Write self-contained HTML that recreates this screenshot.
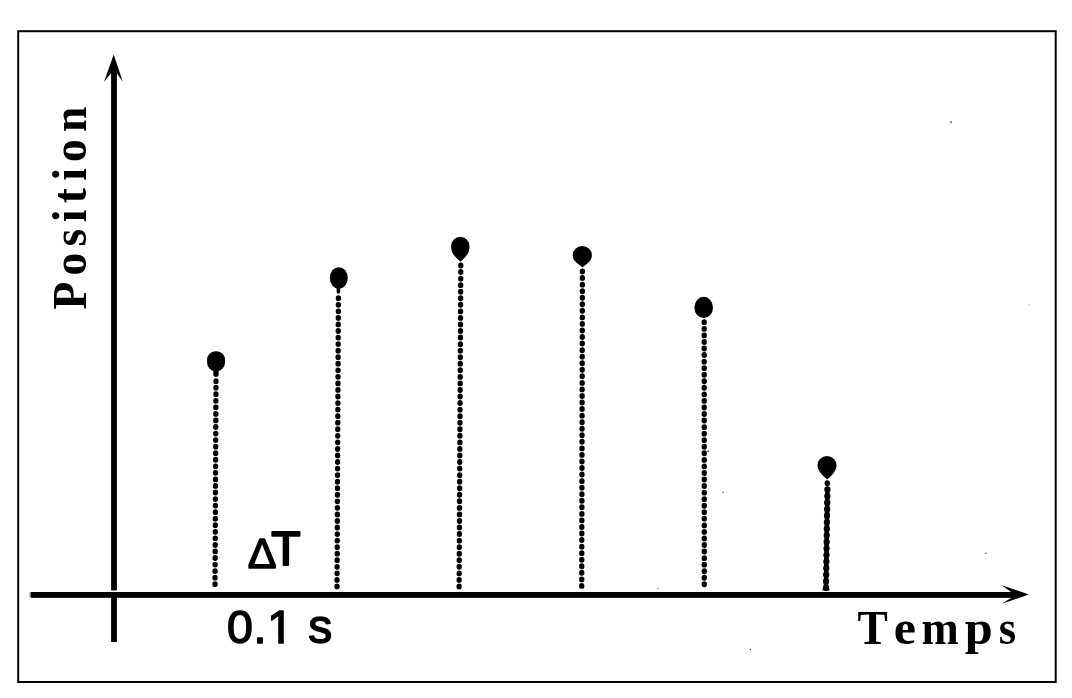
<!DOCTYPE html>
<html lang="fr">
<head>
<meta charset="utf-8">
<title>Position / Temps</title>
<style>
  html, body { margin: 0; padding: 0; background: #fff; }
  body { width: 1072px; height: 698px; overflow: hidden; }
  svg { display: block; }
  .serif { font-family: "Liberation Serif", "Times New Roman", serif; font-weight: bold; font-size: 48px; fill: #000; }
  .sans { font-family: "Liberation Sans", Arial, sans-serif; fill: #000; stroke: #000; stroke-width: 1.5px; stroke-linejoin: round; }
  .stem { stroke: #000; stroke-width: 5.3; stroke-linecap: round; stroke-dasharray: 0.6 5.95; fill: none; }
</style>
</head>
<body>
<svg width="1072" height="698" viewBox="0 0 1072 698">
  <rect x="0" y="0" width="1072" height="698" fill="#fff"/>
  <!-- frame -->
  <rect x="18.2" y="31.2" width="1037.5" height="650.8" fill="none" stroke="#000" stroke-width="2"/>

  <!-- axes -->
  <rect x="111.1" y="72" width="5.8" height="518.4" fill="#000"/>
  <rect x="111.1" y="592" width="5.8" height="50" fill="#000"/>
  <polygon points="113.7,54.5 122.8,81.8 117,73.6 110.9,73.2 104,82" fill="#000"/>
  <rect x="29.4" y="592.3" width="1.6" height="5.2" fill="#999"/>
  <rect x="30.8" y="592" width="981" height="5.85" fill="#000"/>
  <polygon points="1029,594.6 1001.8,585.2 1011,591.9 1011,598 1001.8,603.8" fill="#000"/>

  <!-- stems -->
  <line class="stem" x1="216" y1="380.9" x2="215" y2="589" style="stroke-dasharray:0.5 6.05"/>
  <line class="stem" x1="338.4" y1="298" x2="337" y2="588" style="stroke-dasharray:0.5 6.05"/>
  <line class="stem" x1="460.8" y1="265.2" x2="459.1" y2="588.6"/>
  <line class="stem" x1="582.4" y1="271.2" x2="581.7" y2="590.6"/>
  <line class="stem" x1="704.2" y1="322" x2="704.3" y2="589.5"/>
  <line class="stem" x1="827.3" y1="483" x2="827.3" y2="484"/>
  <line x1="827.4" y1="489" x2="826" y2="588" stroke="#000" stroke-width="4.6" stroke-linecap="round"/>
  <line x1="827.4" y1="489.5" x2="826" y2="588" stroke="#000" stroke-width="6.3" stroke-linecap="round" stroke-dasharray="0.01 6.55"/>
  <line x1="822.5" y1="589.6" x2="829.5" y2="589.6" stroke="#000" stroke-width="1.6"/>

  <!-- heads -->
  <g fill="#000" stroke="#000" stroke-linecap="round">
    <rect x="207.1" y="351.2" width="17.9" height="19.8" rx="8.2" ry="8.6" stroke="none"/>
    <line x1="216" y1="369" x2="216" y2="374.2" stroke-width="5.4"/>
    <ellipse cx="338.8" cy="278" rx="8.95" ry="10.8" stroke="none"/>
    <line x1="338.4" y1="288" x2="338.4" y2="292" stroke-width="3.6"/>
    <g stroke="none">
    <path d="M451.1,246.4 A9.2,9.6 0 0 1 469.5,246.4 C469.5,254.08 464.5,257.80 460.5,261.8 C456.5,257.80 451.1,254.08 451.1,246.4 Z"/>
    <path d="M572.7,255.0 A9.6,8.9 0 0 1 591.9,255.0 C591.9,261.68 587.0,263.10 582.5,267.6 C578.0,263.10 572.7,261.68 572.7,255.0 Z"/>
    <ellipse cx="703.7" cy="307.4" rx="9.3" ry="10.6"/>
    <path d="M817.45,465.3 A9.55,9.2 0 0 1 836.55,465.3 C836.55,471.74 830.2,476.60 827.2,479.6 C824.2,476.60 817.45,471.74 817.45,465.3 Z"/>
    </g>
  </g>

  <!-- labels -->
  <text class="serif" transform="translate(86.2,320) rotate(-90) scale(0.95,1)" x="11.19 46.74 77.36 102.84 122.78 146.58 166.42 197.84" y="0">Position</text>
  <text class="serif" y="643.8" lengthAdjust="spacingAndGlyphs"><tspan x="857.4" textLength="30.3" lengthAdjust="spacingAndGlyphs">T</tspan><tspan x="893.7" textLength="22.2" lengthAdjust="spacingAndGlyphs">e</tspan><tspan x="921.6" textLength="37.2" lengthAdjust="spacingAndGlyphs">m</tspan><tspan x="964.8" textLength="28" lengthAdjust="spacingAndGlyphs">p</tspan><tspan x="998.65" textLength="17.4" lengthAdjust="spacingAndGlyphs">s</tspan></text>
  <text class="sans"><tspan font-size="43" x="247.7" y="568.2" style="stroke-width:1.5px">Δ</tspan><tspan font-size="48" x="271.15" y="565.4" style="stroke-width:2px">T</tspan></text>
  <text class="sans" font-size="46.5" x="227.1 253.4 267.25 295 308.3" y="642.6">0.1 <tspan font-size="48">s</tspan></text>
  <rect x="268" y="637.4" width="10.2" height="8" fill="#fff"/>
  <rect x="283.85" y="637.4" width="9" height="8" fill="#fff"/>
  <!-- scan specks -->
  <g fill="#333">
    <rect x="950.3" y="121.4" width="1.4" height="1.6"/>
    <rect x="1028.6" y="304.2" width="1" height="1" fill="#999"/>
    <rect x="722.5" y="491.8" width="1.2" height="1"/>
    <rect x="985.2" y="552.8" width="1.6" height="0.9"/>
    <rect x="749.8" y="649" width="1.2" height="1.2"/>
    <rect x="657.5" y="588.2" width="1.2" height="0.9" fill="#777"/>
    <rect x="707.4" y="450.6" width="1.4" height="1.4"/>
  </g>
</svg>
</body>
</html>
